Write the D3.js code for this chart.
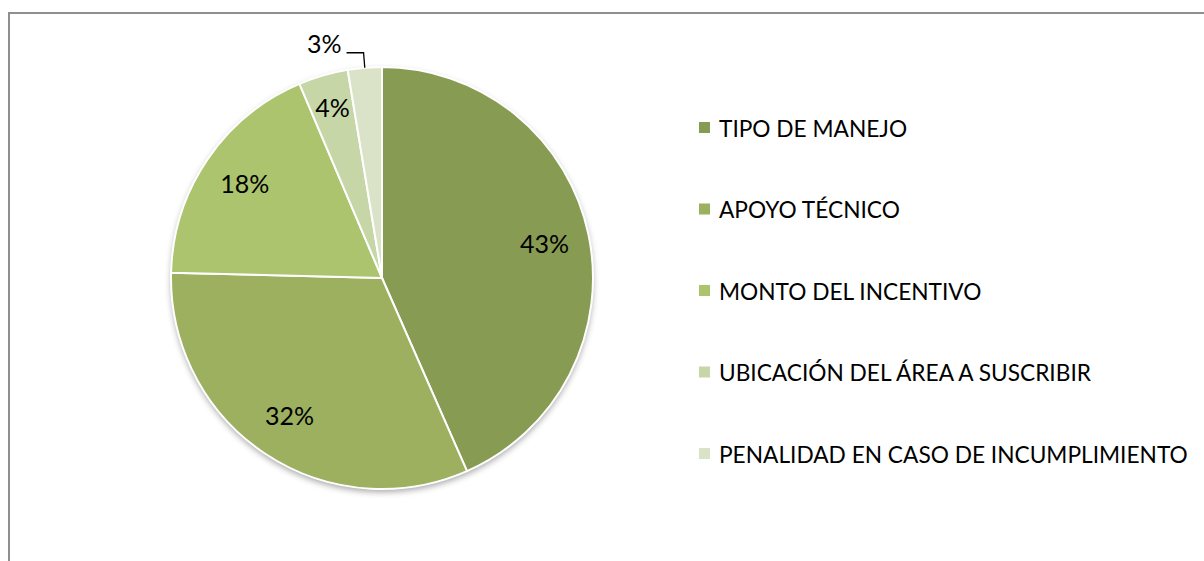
<!DOCTYPE html>
<html>
<head>
<meta charset="utf-8">
<script src="https://cdn.jsdelivr.net/npm/d3@7"></script>
<style>
  body { margin: 0; background: #fff; }
  text { font-family: Lato, "Open Sans", sans-serif; fill: #000; }
</style>
</head>
<body>
<script>
// chart data
var categories = [
  "TIPO DE MANEJO",
  "APOYO TÉCNICO",
  "MONTO DEL INCENTIVO",
  "UBICACIÓN DEL ÁREA A SUSCRIBIR",
  "PENALIDAD EN CASO DE INCUMPLIMIENTO"
];
var values = [43.4, 32.0, 18.2, 3.8, 2.6];
var colors = ["#889b52", "#9cb060", "#abc46d", "#c6d6a7", "#dae3c8"];

var width = 1204, height = 561;
var cx = 382, cy = 278, radius = 211;

var svg = d3.select("body").append("svg")
  .attr("width", width)
  .attr("height", height);

// frame
svg.append("rect")
  .attr("x", 9).attr("y", 13)
  .attr("width", 1210).attr("height", 570)
  .attr("fill", "none")
  .attr("stroke", "#8f8f8f")
  .attr("stroke-width", 2);

// soft shadow under the pie
var defs = svg.append("defs");
var f = defs.append("filter").attr("id", "shadow")
  .attr("x", "-20%").attr("y", "-20%").attr("width", "140%").attr("height", "140%");
f.append("feDropShadow")
  .attr("dx", 0).attr("dy", 3)
  .attr("stdDeviation", 3)
  .attr("flood-color", "#000")
  .attr("flood-opacity", 0.35);

var total = d3.sum(values);
var pie = d3.pie().sort(null).value(function (d) { return d; });
var arcs = pie(values);

var arc = d3.arc().innerRadius(0).outerRadius(radius);
var labelArc = d3.arc().innerRadius(166).outerRadius(166);

var g = svg.append("g").attr("transform", "translate(" + cx + "," + cy + ")");

g.append("circle")
  .attr("r", radius)
  .attr("fill", "#fff")
  .attr("filter", "url(#shadow)");

g.selectAll("path.slice")
  .data(arcs)
  .enter()
  .append("path")
  .attr("class", "slice")
  .attr("d", arc)
  .attr("fill", function (d, i) { return colors[i]; })
  .attr("stroke", "#fff")
  .attr("stroke-width", 2);

var pct = function (v) { return Math.round(v / total * 100) + "%"; };

// inside labels (first three slices)
g.selectAll("text.inlabel")
  .data(arcs.slice(0, 3))
  .enter()
  .append("text")
  .attr("class", "inlabel")
  .attr("transform", function (d) { return "translate(" + labelArc.centroid(d) + ")"; })
  .attr("text-anchor", "middle")
  .attr("dy", "0.35em")
  .style("font-size", "25px")
  .text(function (d) { return pct(d.data); });

// 4% label sits near the rim
var rimArc = d3.arc().innerRadius(177).outerRadius(177);
g.append("text")
  .attr("transform", "translate(" + rimArc.centroid(arcs[3]) + ")")
  .attr("text-anchor", "middle")
  .attr("dy", "0.35em")
  .style("font-size", "25px")
  .text(pct(arcs[3].data));

// 3% label outside with leader line
var a5 = arcs[4];
var mid = (a5.startAngle + a5.endAngle) / 2;
var p1 = [Math.sin(mid) * radius, -Math.cos(mid) * radius];
var p2 = [Math.sin(mid) * (radius + 15), -Math.cos(mid) * (radius + 15)];
var p3 = [p2[0] - 17, p2[1]];
g.append("polyline")
  .attr("points", [p1, p2, p3].map(function (p) { return p.join(","); }).join(" "))
  .attr("fill", "none")
  .attr("stroke", "#000")
  .attr("stroke-width", 1.3);
g.append("text")
  .attr("x", p3[0] - 5)
  .attr("y", p3[1])
  .attr("text-anchor", "end")
  .style("font-size", "25px")
  .text(pct(a5.data));

// legend
var ly = d3.scalePoint().domain(categories).range([129, 455]);
var legend = svg.append("g").selectAll("g")
  .data(categories)
  .enter()
  .append("g")
  .attr("transform", function (d) { return "translate(699," + ly(d) + ")"; });

legend.append("rect")
  .attr("x", 0).attr("y", -7)
  .attr("width", 11).attr("height", 11)
  .attr("fill", function (d, i) { return colors[i]; });

legend.append("text")
  .attr("x", 20)
  .attr("dy", "0.35em")
  .style("font-size", "22.7px")
  .text(function (d) { return d; });
</script>
</body>
</html>
